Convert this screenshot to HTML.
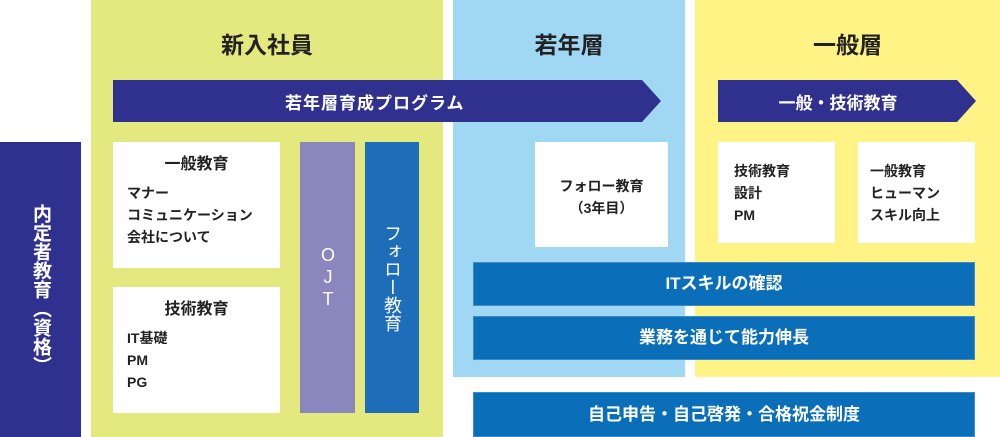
<!DOCTYPE html>
<html><head><meta charset="utf-8"><style>
body{margin:0;width:1000px;height:437px;position:relative;overflow:hidden;background:#fff;font-family:"Liberation Sans","Noto Sans CJK JP",sans-serif;}
.a{position:absolute;box-sizing:border-box;}
.h{font-size:23px;font-weight:bold;color:#222;text-align:center;}
.w{background:#fff;color:#222;font-weight:bold;font-size:14px;line-height:22px;}
.bar{background:#0a6fb8;color:#fff;font-size:17px;font-weight:bold;text-align:center;border:1px solid #3c8acb;}
.v{writing-mode:vertical-rl;text-orientation:upright;color:#fff;font-weight:bold;font-size:18px;display:flex;align-items:center;justify-content:center;}
</style></head><body>
<div class="a" style="left:91px;top:0;width:352px;height:437px;background:#e3e97f"></div>
<div class="a" style="left:453px;top:0;width:232px;height:377px;background:#a0d8f3"></div>
<div class="a" style="left:695px;top:0;width:305px;height:377px;background:#fff385"></div>
<div class="a h" style="left:91px;top:26px;width:352px">新入社員</div>
<div class="a h" style="left:453px;top:26px;width:232px">若年層</div>
<div class="a h" style="left:695px;top:26px;width:305px">一般層</div>
<svg class="a" style="left:0;top:0" width="1000" height="437">
<polygon points="113,80 642,80 661,101 642,122 113,122" fill="#30308f"/>
<polygon points="718,80 957,80 976,101 957,122 718,122" fill="#30308f"/>
</svg>
<div class="a" style="left:113px;top:89px;width:540px;color:#fff;font-size:17px;font-weight:bold;padding-left:172px;letter-spacing:1px">若年層育成プログラム</div>
<div class="a" style="left:718px;top:89px;width:240px;text-align:center;color:#fff;font-size:17px;font-weight:bold">一般・技術教育</div>
<div class="a v" style="left:0;top:142px;width:81px;height:295px;background:#30308f;font-size:19px">内定者教育（資格）</div>
<div class="a w" style="left:113px;top:142px;width:167px;height:126px;padding:12px 0 0 14px"><div style="text-align:center;font-size:16px;margin:0 0 6px -14px">一般教育</div>マナー<br>コミュニケーション<br>会社について</div>
<div class="a w" style="left:113px;top:287px;width:167px;height:126px;padding:12px 0 0 14px"><div style="text-align:center;font-size:16px;margin:0 0 6px -14px">技術教育</div>IT基礎<br>PM<br>PG</div>
<div class="a v" style="left:300px;top:142px;width:55px;height:271px;background:#8a86be;letter-spacing:2px;font-weight:normal">OJT</div>
<div class="a v" style="left:365px;top:142px;width:54px;height:271px;background:#1e6db8;font-weight:normal">フォロー教育</div>
<div class="a w" style="left:535px;top:142px;width:133px;height:105px;text-align:center;padding-top:33px">フォロー教育<br>（3年目）</div>
<div class="a w" style="left:718px;top:142px;width:117px;height:101px;padding:18px 0 0 16px">技術教育<br>設計<br>PM</div>
<div class="a w" style="left:858px;top:142px;width:117px;height:101px;padding:18px 0 0 12px">一般教育<br>ヒューマン<br>スキル向上</div>
<div class="a bar" style="left:473px;top:262px;width:502px;height:44px;line-height:42px">ITスキルの確認</div>
<div class="a bar" style="left:473px;top:316px;width:502px;height:44px;line-height:42px">業務を通じて能力伸長</div>
<div class="a bar" style="left:473px;top:392px;width:502px;height:45px;line-height:44px">自己申告・自己啓発・合格祝金制度</div>
</body></html>
